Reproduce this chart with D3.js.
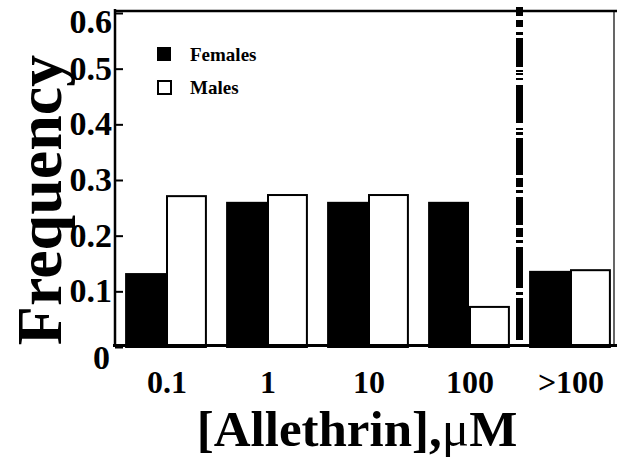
<!DOCTYPE html>
<html>
<head>
<meta charset="utf-8">
<script src="https://cdn.jsdelivr.net/npm/d3@7"></script>
<style>
  body { margin: 0; background: #fff; }
  svg { display: block; }
  text { font-family: "Liberation Serif", "Times New Roman", serif; font-weight: bold; fill: #000; }
</style>
</head>
<body>
<svg width="617" height="459"></svg>
<script>
// data
var categories = ["0.1", "1", "10", "100", ">100"];
var females = [0.131, 0.259, 0.259, 0.259, 0.135];
var males = [0.271, 0.273, 0.273, 0.072, 0.138];
var yTicks = [0, 0.1, 0.2, 0.3, 0.4, 0.5, 0.6];
var seriesNames = ["Females", "Males"];

var svg = d3.select("svg");

var x0 = d3.scaleBand()
    .domain(categories)
    .range([115, 621])
    .paddingInner(0.19)
    .paddingOuter(0.1);

var x1 = d3.scaleBand()
    .domain(seriesNames)
    .range([0, x0.bandwidth()]);

var y = d3.scaleLinear()
    .domain([0, 0.6])
    .range([347, 13]);

var rows = categories.map(function(c, i) {
    return {cat: c, Females: females[i], Males: males[i]};
});

// bars
var groups = svg.append("g")
    .selectAll("g")
    .data(rows)
    .enter().append("g")
    .attr("transform", function(d) { return "translate(" + x0(d.cat) + ",0)"; });

groups.selectAll("rect")
    .data(function(d) { return seriesNames.map(function(k) { return {key: k, value: d[k]}; }); })
    .enter().append("rect")
    .attr("x", function(d) { return x1(d.key) + 1; })
    .attr("y", function(d) { return y(d.value); })
    .attr("width", x1.bandwidth() - 2)
    .attr("height", function(d) { return y(0) - y(d.value); })
    .attr("fill", function(d) { return d.key == "Females" ? "#000" : "#fff"; })
    .attr("stroke", "#000")
    .attr("stroke-width", 2);

// dashed divider between 100 and >100
var xDiv = (x0("100") + x0.bandwidth() + x0(">100")) / 2;
svg.append("line")
    .attr("x1", xDiv).attr("x2", xDiv)
    .attr("y1", 7).attr("y2", 342)
    .attr("stroke", "#000")
    .attr("stroke-width", 7)
    .attr("stroke-dasharray", "9,4,7,5,3,3,29,3,2,1,2,3,2,5,38,5,2,2,3,3,37,3,9,3,3,4,28,3,9,3,3,4,41,4,3,3,42");

// frame
svg.append("line").attr("x1", 114).attr("x2", 617).attr("y1", 11).attr("y2", 11)
    .attr("stroke", "#000").attr("stroke-width", 2.5);
svg.append("line").attr("x1", 614).attr("x2", 614).attr("y1", 11).attr("y2", 345)
    .attr("stroke", "#000").attr("stroke-width", 1.2);
svg.append("line").attr("x1", 113).attr("x2", 617).attr("y1", y(0) - 1.5).attr("y2", y(0) - 1.5)
    .attr("stroke", "#000").attr("stroke-width", 3);

// y axis
var yAxis = svg.append("g")
    .attr("transform", "translate(115,0)")
    .call(d3.axisRight(y).tickValues(yTicks).tickSize(8).tickFormat(""));
yAxis.select(".domain").attr("stroke-width", 2.5).attr("d", "M0,9V347");
yAxis.selectAll(".tick line").attr("stroke-width", 2);

svg.append("g")
    .selectAll("text")
    .data(yTicks)
    .enter().append("text")
    .attr("x", function(d) { return d == 0 ? 110 : 112; })
    .attr("y", function(d) {
        if (d == 0) return y(d) + 22;
        if (d == 0.6) return y(d) + 20;
        return y(d) + 11;
    })
    .attr("text-anchor", "end")
    .attr("font-size", 34)
    .text(function(d) { return d == 0 ? "0" : d3.format(".1f")(d); });

// x category labels
svg.append("g")
    .selectAll("text")
    .data(categories)
    .enter().append("text")
    .attr("x", function(d) { return x0(d) + x0.bandwidth() / 2 + 1; })
    .attr("y", 393)
    .attr("text-anchor", "middle")
    .attr("font-size", 32)
    .text(function(d) { return d; });

// axis titles
svg.append("text")
    .attr("transform", "translate(61,200) rotate(-90)")
    .attr("text-anchor", "middle")
    .attr("font-size", 64)
    .text("Frequency");

var xt = svg.append("text")
    .attr("x", 357)
    .attr("y", 446)
    .attr("text-anchor", "middle")
    .attr("font-size", 51);
xt.append("tspan").text("[Allethrin],");
xt.append("tspan").attr("font-weight", "normal").text("\u03bc");
xt.append("tspan").text("M");

// legend
var legend = svg.append("g")
    .selectAll("g")
    .data(seriesNames)
    .enter().append("g")
    .attr("transform", function(d, i) { return "translate(157," + (47 + i * 33) + ")"; });

legend.append("rect")
    .attr("x", function(d, i) { return i == 0 ? 0 : 1; })
    .attr("y", function(d, i) { return i == 0 ? 0 : 1; })
    .attr("width", function(d, i) { return i == 0 ? 14 : 13; })
    .attr("height", function(d, i) { return i == 0 ? 14 : 13; })
    .attr("fill", function(d) { return d == "Females" ? "#000" : "#fff"; })
    .attr("stroke", "#000")
    .attr("stroke-width", function(d, i) { return i == 0 ? 0 : 2; });

legend.append("text")
    .attr("x", 33)
    .attr("y", 14)
    .attr("font-size", 19)
    .text(function(d) { return d; });
</script>
</body>
</html>
